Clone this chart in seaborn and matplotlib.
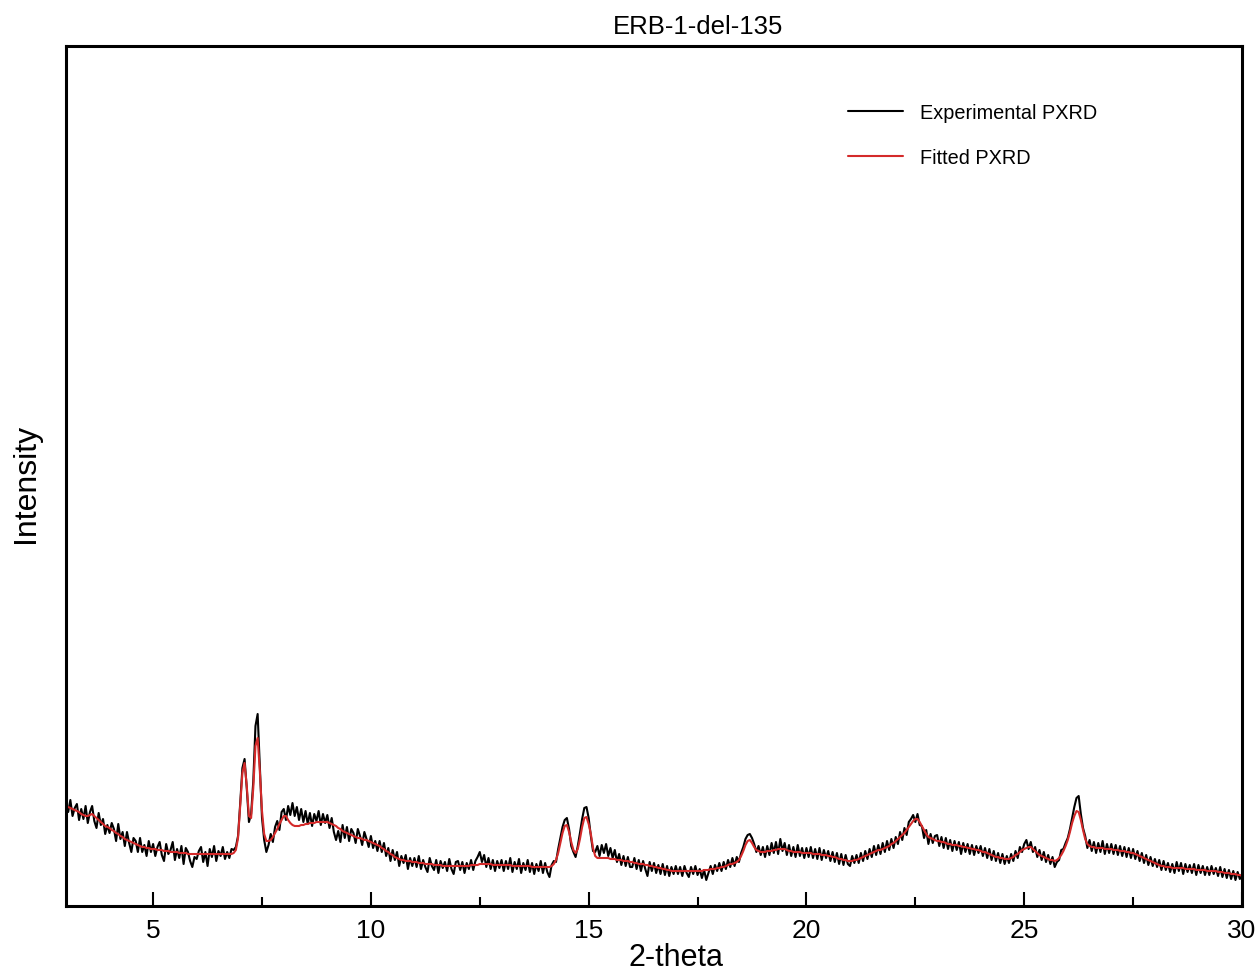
import matplotlib.pyplot as plt
import numpy as np
import pandas as pd
import seaborn as sns
from matplotlib.ticker import MultipleLocator

# scan grid, 2-theta from 3 to 30 in 0.05 deg steps
two_theta = np.round(np.arange(3.0, 30.0001, 0.05), 2)

# experimental pattern, arbitrary counts (one row per degree)
exp_intensity = [
    104, 94, 106, 90, 98, 102, 86, 97, 87, 100, 83, 94, 100, 85, 78, 93, 81, 87, 72, 81,
    73, 83, 77, 65, 82, 67, 74, 60, 74, 63, 54, 68, 65, 54, 68, 54, 61, 50, 65, 54,
    62, 50, 59, 64, 51, 45, 62, 52, 56, 64, 46, 57, 48, 60, 42, 58, 54, 45, 39, 49,
    47, 55, 59, 44, 54, 40, 57, 49, 60, 45, 55, 50, 59, 47, 54, 48, 57, 56, 59, 70,
    103, 138, 147, 118, 84, 92, 125, 180, 192, 140, 88, 66, 54, 61, 72, 64, 79, 85, 76, 94,
    97, 86, 100, 91, 103, 90, 99, 86, 97, 84, 95, 82, 93, 80, 92, 85, 95, 81, 92, 83,
    91, 78, 88, 74, 66, 75, 64, 81, 68, 79, 65, 77, 73, 63, 77, 70, 61, 74, 67, 59,
    70, 58, 65, 55, 65, 54, 63, 50, 58, 45, 56, 46, 54, 40, 50, 43, 51, 37, 48, 40,
    48, 39, 50, 37, 46, 39, 34, 48, 40, 36, 46, 33, 45, 38, 44, 35, 47, 37, 32, 44,
    45, 36, 44, 33, 43, 37, 46, 36, 45, 49, 54, 44, 51, 39, 48, 37, 46, 35, 45, 38,
    46, 35, 45, 37, 48, 34, 44, 37, 47, 33, 43, 36, 46, 34, 43, 32, 42, 35, 45, 33,
    43, 34, 29, 41, 45, 44, 57, 68, 79, 86, 88, 77, 60, 54, 49, 60, 73, 87, 98, 99,
    88, 70, 55, 54, 60, 50, 61, 53, 62, 50, 58, 48, 56, 44, 52, 41, 50, 40, 49, 39,
    39, 48, 37, 46, 35, 45, 37, 30, 44, 35, 43, 33, 41, 32, 42, 31, 40, 30, 39, 32,
    40, 32, 39, 30, 40, 33, 29, 39, 32, 40, 31, 37, 28, 36, 26, 33, 40, 32, 41, 35,
    43, 35, 44, 37, 46, 39, 48, 40, 49, 44, 53, 59, 67, 71, 72, 68, 62, 54, 60, 51,
    59, 49, 60, 51, 63, 53, 64, 52, 67, 55, 63, 51, 61, 50, 59, 49, 61, 50, 58, 48,
    58, 49, 59, 48, 57, 47, 58, 46, 56, 48, 55, 45, 54, 44, 53, 42, 52, 41, 51, 42,
    40, 50, 43, 51, 43, 53, 45, 55, 47, 57, 49, 60, 51, 61, 52, 63, 54, 65, 56, 67,
    58, 69, 62, 74, 66, 78, 71, 84, 87, 91, 84, 92, 81, 80, 68, 76, 62, 72, 63, 70,
    71, 60, 69, 58, 68, 57, 66, 55, 65, 56, 64, 52, 63, 54, 62, 52, 61, 51, 60, 53,
    60, 50, 58, 48, 57, 46, 55, 45, 53, 43, 52, 42, 50, 43, 52, 45, 55, 48, 59, 54,
    62, 66, 57, 64, 54, 59, 49, 56, 46, 54, 44, 51, 42, 49, 39, 44, 46, 56, 57, 63,
    68, 77, 88, 99, 108, 110, 92, 78, 70, 58, 66, 55, 64, 53, 63, 54, 65, 52, 62, 53,
    62, 52, 61, 51, 60, 50, 59, 49, 58, 48, 57, 47, 55, 45, 53, 43, 51, 41, 49, 40,
    47, 39, 46, 36, 45, 36, 43, 34, 42, 33, 44, 35, 43, 32, 42, 34, 41, 33, 42, 31,
    41, 33, 40, 31, 39, 31, 40, 32, 38, 30, 39, 29, 37, 28, 36, 27, 35, 26, 34, 27, 32,
]

# fitted pattern on the same grid
fit_intensity = [
    100, 99, 98, 97, 96, 95, 94, 92, 91, 90, 90, 91, 92, 90, 88, 86, 84, 82, 80, 79,
    78, 76, 75, 73, 72, 70, 69, 67, 66, 65, 64, 63, 62, 61, 60, 59, 59, 58, 58, 57,
    57, 57, 56, 56, 56, 55, 55, 55, 54, 54, 54, 54, 53, 53, 53, 53, 52, 52, 52, 52,
    52, 52, 52, 52, 52, 52, 52, 52, 52, 52, 52, 52, 52, 52, 52, 52, 52, 53, 56, 68,
    100, 133, 143, 120, 90, 88, 118, 160, 168, 135, 95, 72, 65, 65, 66, 69, 73, 77, 82, 86,
    90, 90, 86, 83, 81, 80, 80, 80, 81, 81, 82, 82, 83, 83, 83, 84, 84, 84, 84, 84,
    84, 83, 82, 81, 80, 78, 77, 75, 74, 73, 72, 71, 70, 69, 68, 68, 67, 66, 66, 65,
    64, 63, 62, 61, 60, 58, 57, 55, 54, 52, 51, 49, 48, 47, 46, 46, 45, 45, 45, 44,
    44, 44, 43, 43, 43, 42, 42, 42, 42, 41, 41, 41, 41, 40, 40, 40, 40, 40, 40, 40,
    40, 40, 40, 40, 40, 40, 41, 41, 41, 41, 42, 42, 42, 42, 42, 42, 41, 41, 41, 41,
    41, 41, 41, 41, 41, 40, 40, 40, 40, 40, 40, 40, 40, 40, 39, 39, 39, 39, 39, 39,
    39, 39, 39, 40, 42, 46, 53, 63, 73, 80, 81, 74, 64, 56, 53, 57, 67, 79, 88, 89,
    82, 72, 58, 50, 48, 48, 48, 48, 48, 48, 47, 47, 47, 46, 46, 46, 45, 45, 45, 44,
    44, 43, 43, 42, 42, 42, 41, 41, 40, 40, 39, 39, 38, 38, 37, 37, 36, 36, 35, 35,
    35, 35, 35, 35, 35, 35, 35, 35, 35, 35, 35, 35, 35, 36, 36, 36, 37, 37, 37, 38,
    38, 39, 39, 40, 41, 42, 42, 43, 44, 46, 50, 55, 61, 65, 66, 63, 59, 56, 55, 54,
    54, 54, 55, 55, 55, 56, 56, 57, 57, 57, 57, 56, 55, 55, 54, 54, 54, 54, 53, 53,
    53, 53, 53, 52, 52, 52, 52, 51, 51, 51, 50, 50, 49, 49, 48, 47, 47, 46, 46, 45,
    45, 45, 46, 46, 47, 48, 49, 50, 51, 52, 53, 54, 55, 56, 56, 57, 58, 59, 60, 62,
    63, 65, 67, 69, 71, 73, 76, 79, 82, 85, 87, 87, 84, 80, 76, 72, 69, 68, 67, 66,
    65, 65, 64, 64, 63, 62, 62, 61, 61, 61, 60, 60, 59, 59, 58, 58, 57, 57, 56, 56,
    55, 54, 54, 53, 52, 51, 50, 49, 49, 48, 48, 47, 47, 47, 48, 49, 51, 52, 54, 56,
    57, 58, 59, 59, 57, 55, 53, 51, 50, 49, 48, 47, 46, 46, 45, 46, 48, 51, 55, 60,
    66, 74, 83, 90, 95, 94, 86, 76, 67, 62, 60, 59, 59, 58, 58, 58, 58, 57, 57, 57,
    57, 56, 56, 56, 55, 55, 55, 54, 54, 53, 53, 52, 51, 50, 49, 48, 47, 46, 45, 44,
    43, 42, 41, 40, 40, 39, 39, 39, 38, 38, 38, 38, 38, 38, 37, 37, 37, 37, 37, 36,
    36, 36, 36, 36, 35, 35, 35, 35, 35, 34, 34, 34, 33, 33, 33, 32, 32, 32, 31, 31, 30,
]

df = pd.DataFrame({
    "two_theta": two_theta,
    "experimental": exp_intensity,
    "fitted": fit_intensity,
})

sns.set_theme(style="white")
plt.rcParams["font.family"] = ["Liberation Sans", "DejaVu Sans"]
plt.rcParams["text.color"] = "black"
plt.rcParams["axes.labelcolor"] = "black"
plt.rcParams["xtick.color"] = "black"

fig = plt.figure(figsize=(12.6, 9.79), dpi=100)
ax = fig.add_axes([66 / 1260, 72 / 979, 1176 / 1260, 860 / 979])

sns.lineplot(data=df, x="two_theta", y="experimental", color="black",
             linewidth=1.5, label="Experimental PXRD", ax=ax)
sns.lineplot(data=df, x="two_theta", y="fitted", color="#d42a2a",
             linewidth=1.5, label="Fitted PXRD", ax=ax)

ax.set_xlim(3, 30)
ax.set_ylim(0, 860)
ax.set_yticks([])
ax.xaxis.set_major_locator(MultipleLocator(5))
ax.xaxis.set_minor_locator(MultipleLocator(2.5))
ax.tick_params(axis="x", which="major", direction="in", length=10, width=1.5,
               labelsize=19, pad=9, bottom=True, top=False, colors="black")
ax.tick_params(axis="x", which="minor", direction="in", length=6.5, width=1.5,
               bottom=True, top=False)

for side in ["left", "right", "top", "bottom"]:
    ax.spines[side].set_visible(True)
    ax.spines[side].set_color("black")
    ax.spines[side].set_linewidth(2.2)

ax.set_xlabel("2-theta", fontsize=22, va="center")
ax.xaxis.set_label_coords((676 - 66) / 1176, (907 - 958) / 860)
ax.set_ylabel("Intensity", fontsize=23, va="center")
ax.yaxis.set_label_coords((26 - 66) / 1176, (907 - 483) / 860)
ax.set_title("ERB-1-del-135", fontsize=18.5, x=(698 - 66) / 1176,
             y=(907 - 27) / 860, va="center", pad=0)

ax.legend(loc="upper left", bbox_to_anchor=(0.6496, 0.954), frameon=False,
          fontsize=14.3, handlelength=2.76, handletextpad=0.85, labelspacing=1.3)

fig.savefig("out.png", dpi=100)
